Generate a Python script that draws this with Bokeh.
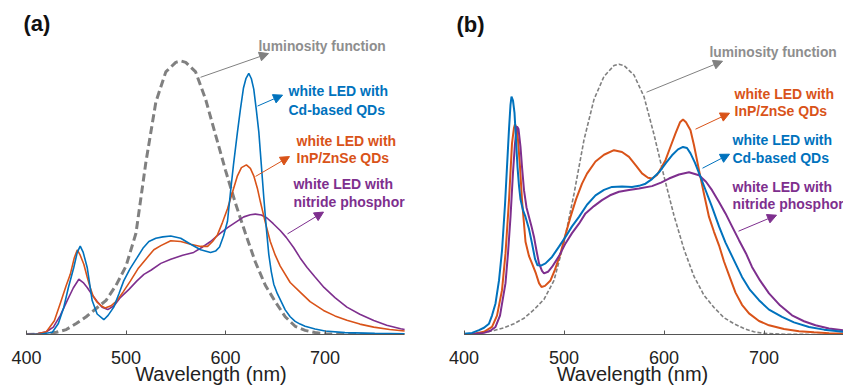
from bokeh.plotting import figure
from bokeh.layouts import row
from bokeh.models import Range1d, FixedTicker, Label, Arrow, NormalHead
from bokeh.embed import file_html
from bokeh.resources import INLINE

# ---------------- data: panel (a) ----------------
wl_lum_a = [400, 410, 420, 430, 440, 450, 460, 470, 480, 490, 500, 510, 520, 530, 540, 550, 555,
            560, 570, 580, 590, 600, 610, 620, 630, 640, 650, 660, 670, 680, 690, 700, 720, 750, 780]
lum_a = [0.0, 0.001, 0.003, 0.008, 0.018, 0.04, 0.065, 0.095, 0.125, 0.18, 0.25, 0.37, 0.63, 0.85,
         0.96, 0.995, 1.0, 0.995, 0.96, 0.86, 0.73, 0.60, 0.48, 0.37, 0.265, 0.18, 0.12, 0.065,
         0.03, 0.015, 0.007, 0.003, 0.001, 0.0, 0.0]

wl_cd_a = [400, 415, 426, 432, 437.5, 442, 447.5, 451, 454, 457, 461, 466, 471, 477.7, 482, 487.7,
           493, 497.7, 504, 511, 517, 523, 530, 537, 545, 555, 565, 575, 585, 590, 594, 598, 602,
           605, 608, 612, 615, 618, 620.5, 623.4, 626, 628.4, 631, 633.5, 636, 638.5, 641, 643.5,
           646, 648.5, 652, 656, 660, 665, 670, 675, 680, 690, 700, 720, 750, 780]
cd_a = [0.0, 0.002, 0.008, 0.04, 0.10, 0.17, 0.245, 0.30, 0.323, 0.30, 0.245, 0.124, 0.075, 0.054,
        0.07, 0.10, 0.15, 0.196, 0.24, 0.28, 0.315, 0.34, 0.352, 0.357, 0.36, 0.352, 0.33, 0.31,
        0.30, 0.305, 0.32, 0.36, 0.414, 0.52, 0.62, 0.74, 0.824, 0.90, 0.935, 0.955, 0.935, 0.897,
        0.82, 0.74, 0.62, 0.50, 0.39, 0.293, 0.23, 0.184, 0.15, 0.12, 0.09, 0.065, 0.048, 0.038,
        0.03, 0.02, 0.013, 0.007, 0.004, 0.003]

wl_inp_a = [400, 410, 420, 428, 434, 440, 444, 448, 451, 454, 457.6, 461, 464, 467, 471, 475, 479,
            485, 491, 497, 504.5, 512, 521, 528, 535, 545, 555, 565, 575, 582, 587, 592, 597, 602,
            607, 612, 616, 621, 625, 628.4, 632, 635, 640, 645, 650, 655, 665, 675, 685, 698.5,
            710, 722, 735, 749, 765, 780]
inp_a = [0.0, 0.002, 0.01, 0.05, 0.114, 0.18, 0.22, 0.28, 0.309, 0.29, 0.257, 0.21, 0.172, 0.14,
         0.118, 0.105, 0.097, 0.105, 0.124, 0.155, 0.196, 0.24, 0.28, 0.31, 0.325, 0.343, 0.34,
         0.33, 0.322, 0.322, 0.34, 0.365, 0.41, 0.46, 0.52, 0.58, 0.61, 0.62, 0.607, 0.58, 0.535,
         0.486, 0.41, 0.34, 0.29, 0.25, 0.19, 0.155, 0.12, 0.088, 0.068, 0.052, 0.038, 0.027,
         0.018, 0.013]

wl_nit_a = [400, 410, 420, 427, 434, 441, 447, 452.6, 457, 461, 466, 471, 476, 481.7, 488, 494.5,
            503, 511, 518, 525, 535, 545, 557, 568, 577, 585, 593, 601.7, 610, 618.4, 625, 630,
            636, 641.7, 648, 655, 661, 668.6, 675, 682, 690, 699, 710, 722, 735, 749, 762, 776, 780]
nit_a = [0.0, 0.002, 0.01, 0.027, 0.07, 0.125, 0.17, 0.202, 0.19, 0.172, 0.145, 0.121, 0.10, 0.091,
         0.105, 0.136, 0.165, 0.196, 0.22, 0.235, 0.26, 0.275, 0.29, 0.30, 0.32, 0.34, 0.365, 0.39,
         0.41, 0.43, 0.438, 0.44, 0.437, 0.426, 0.405, 0.38, 0.355, 0.317, 0.28, 0.245, 0.21,
         0.172, 0.135, 0.10, 0.074, 0.051, 0.034, 0.021, 0.018]

# ---------------- data: panel (b) ----------------
wl_lum_b = [400, 410, 420, 430, 440, 450, 460, 470, 480, 490, 500, 510, 520, 530, 540, 550, 555,
            560, 570, 580, 590, 600, 610, 620, 630, 640, 650, 660, 670, 680, 690, 700, 720, 750, 780]
lum_b = [0.0, 0.003, 0.008, 0.015, 0.025, 0.04, 0.06, 0.092, 0.13, 0.2, 0.34, 0.52, 0.72, 0.87,
         0.955, 0.995, 1.0, 0.995, 0.96, 0.88, 0.74, 0.585, 0.44, 0.315, 0.215, 0.145, 0.10,
         0.062, 0.04, 0.022, 0.01, 0.004, 0.001, 0.0, 0.0]

wl_cd_b = [400, 408, 415, 420, 425, 428, 431.5, 435, 438, 441, 443, 445, 446.5, 447.5, 449, 450.5,
           452, 453.5, 455, 456.5, 459, 461.5, 465, 468, 471, 473.5, 477, 481.5, 488, 495, 501.5,
           508, 515, 523, 531.5, 540, 548, 558, 568, 575, 581.5, 588, 595, 602, 608, 614, 619, 623,
           626.5, 631, 636.5, 642, 648, 655, 661.5, 668, 678, 686, 695, 705, 718, 730, 745, 760, 780]
cd_b = [0.003, 0.006, 0.016, 0.025, 0.04, 0.07, 0.115, 0.2, 0.31, 0.48, 0.62, 0.76, 0.85, 0.88,
        0.865, 0.82, 0.72, 0.62, 0.55, 0.50, 0.46, 0.435, 0.39, 0.337, 0.28, 0.256, 0.255, 0.263,
        0.287, 0.325, 0.361, 0.40, 0.435, 0.48, 0.515, 0.535, 0.546, 0.548, 0.546, 0.55, 0.558,
        0.575, 0.60, 0.635, 0.663, 0.685, 0.694, 0.69, 0.67, 0.635, 0.583, 0.53, 0.472, 0.40, 0.34,
        0.29, 0.213, 0.165, 0.127, 0.092, 0.065, 0.045, 0.028, 0.018, 0.01]

wl_inp_b = [400, 410, 420, 428, 433, 438, 441.5, 445, 448, 450, 451, 452.5, 454, 456, 458, 461.5,
            465, 468, 472, 475, 477.5, 481, 486.5, 491, 496.5, 501.5, 506.5, 512, 518, 523, 531.5,
            540, 550, 558, 565, 572, 578, 584, 588, 593, 597, 601.5, 606, 611.5, 616, 619, 622,
            626.5, 630, 635, 640, 645, 650, 655, 660, 665, 671.5, 678, 685, 695, 705, 720, 735, 750,
            765, 780]
inp_b = [0.0, 0.003, 0.01, 0.028, 0.07, 0.164, 0.30, 0.497, 0.707, 0.765, 0.778, 0.765, 0.72, 0.62,
         0.497, 0.343, 0.29, 0.263, 0.225, 0.19, 0.176, 0.18, 0.20, 0.24, 0.30, 0.37, 0.435, 0.50,
         0.558, 0.595, 0.64, 0.665, 0.682, 0.675, 0.657, 0.625, 0.596, 0.58, 0.577, 0.59, 0.615,
         0.645, 0.69, 0.744, 0.785, 0.795, 0.785, 0.756, 0.70, 0.608, 0.52, 0.435, 0.38, 0.33,
         0.27, 0.22, 0.155, 0.11, 0.078, 0.05, 0.034, 0.02, 0.012, 0.008, 0.005, 0.004]

wl_nit_b = [400, 410, 420, 426, 431.5, 436, 441.5, 444, 446.5, 449, 451, 453, 454.5, 456.5, 458,
            460, 462.5, 465, 467.5, 470, 472.5, 475, 478, 480, 484, 488, 495, 501.5, 508, 515,
            521.5, 530, 538, 546, 555, 565, 575, 588, 597, 605, 615, 625, 635, 642, 648, 655, 661.5,
            668, 675, 682, 688, 696, 705, 716, 728, 740, 751.5, 765, 780]
nit_b = [0.0, 0.002, 0.006, 0.013, 0.028, 0.07, 0.19, 0.30, 0.435, 0.60, 0.707, 0.77, 0.76, 0.694,
         0.62, 0.534, 0.47, 0.435, 0.40, 0.361, 0.31, 0.263, 0.235, 0.226, 0.232, 0.25, 0.29, 0.337,
         0.375, 0.41, 0.448, 0.475, 0.497, 0.515, 0.528, 0.535, 0.54, 0.549, 0.562, 0.577, 0.592,
         0.60, 0.589, 0.565, 0.534, 0.49, 0.448, 0.40, 0.349, 0.30, 0.25, 0.2, 0.152, 0.108, 0.071,
         0.049, 0.034, 0.022, 0.015]

tick_values = [400, 500, 600, 700]
tick_labels = {400: "400", 500: "500", 600: "600", 700: "700"}
x_title = "Wavelength (nm)"

BLUE = "#0072BD"
ORANGE = "#D95319"
PURPLE = "#7E2F8E"
GRAY = "#808080"
TGRAY = "#8E8E8E"
FONT = "Liberation Sans"


def make_fig(width, xr, yr, bottom):
    p = figure(width=width, height=389, x_range=Range1d(*xr), y_range=Range1d(*yr),
               output_backend="svg", toolbar_location=None, y_axis_location=None,
               min_border_left=0, min_border_right=0, min_border_top=0,
               min_border_bottom=bottom)
    p.outline_line_color = None
    p.xgrid.visible = False
    p.ygrid.visible = False
    p.background_fill_color = "white"
    p.border_fill_color = "white"
    ax = p.xaxis[0]
    ax.ticker = FixedTicker(ticks=tick_values)
    ax.major_label_overrides = tick_labels
    ax.bounds = (400, 780)
    ax.major_tick_in = 4
    ax.major_tick_out = 0
    ax.minor_tick_line_color = None
    ax.axis_line_color = "#555555"
    ax.major_tick_line_color = "#555555"
    ax.major_label_text_font = FONT
    ax.major_label_text_font_size = "18px"
    ax.major_label_text_color = "#222222"
    ax.major_label_standoff = 16
    ax.axis_label = x_title
    ax.axis_label_text_font = FONT
    ax.axis_label_text_font_size = "20px"
    ax.axis_label_text_font_style = "normal"
    ax.axis_label_text_color = "#222222"
    ax.axis_label_standoff = -4
    return p


def add_text(p, x, y, txt, color, size="14px", bold=True, align="left"):
    p.add_layout(Label(x=x, y=y, text=txt, text_color=color, text_font=FONT,
                       text_font_size=size, text_font_style="bold" if bold else "normal",
                       text_align=align, text_baseline="middle"))


def add_arrow(p, x0, y0, x1, y1, color):
    p.add_layout(Arrow(x_start=x0, y_start=y0, x_end=x1, y_end=y1, line_color=color,
                       line_width=1,
                       end=NormalHead(size=9, line_color=color, fill_color=color, line_width=1)))


# ---------------- panel (a) ----------------
pa = make_fig(421, (373.87, 796.98), (0.0, 1.221), 52)
pa.line(wl_lum_a, lum_a, line_color=GRAY, line_width=3, line_dash="8 4")
pa.line(wl_nit_a, nit_a, line_color=PURPLE, line_width=1.6)
pa.line(wl_inp_a, inp_a, line_color=ORANGE, line_width=1.6)
pa.line(wl_cd_a, cd_a, line_color=BLUE, line_width=1.6)

add_text(pa, 397, 1.136, "(a)", "#111111", size="22px")
add_text(pa, 633.2, 1.0525, "luminosity function", TGRAY, size="13.8px")
add_arrow(pa, 574.9, 0.9402, 643.2, 1.027, GRAY)
add_text(pa, 663.3, 0.8895, "white LED with", BLUE)
add_text(pa, 663.3, 0.8207, "Cd-based QDs", BLUE)
add_arrow(pa, 632.2, 0.8351, 657.3, 0.8750, BLUE)
add_text(pa, 671.4, 0.7083, "white LED with", ORANGE)
add_text(pa, 671.4, 0.6467, "InP/ZnSe QDs", ORANGE)
add_arrow(pa, 630.2, 0.5779, 664.3, 0.6504, ORANGE)
add_text(pa, 668.3, 0.5489, "white LED with", PURPLE)
add_text(pa, 668.3, 0.4837, "nitride phosphor", PURPLE)
add_arrow(pa, 662.3, 0.3678, 698.5, 0.4475, PURPLE)

# ---------------- panel (b) ----------------
pb = make_fig(422, (357.5, 779.5), (0.0, 1.2357), 55)
pb.line(wl_lum_b, lum_b, line_color=GRAY, line_width=1.6, line_dash="4 2")
pb.line(wl_inp_b, inp_b, line_color=ORANGE, line_width=2)
pb.line(wl_nit_b, nit_b, line_color=PURPLE, line_width=2)
pb.line(wl_cd_b, cd_b, line_color=BLUE, line_width=2)

add_text(pb, 392.5, 1.148, "(b)", "#111111", size="22px")
add_text(pb, 645.5, 1.0444, "luminosity function", TGRAY, size="13.8px")
add_arrow(pb, 582.5, 0.8964, 658.5, 1.0111, GRAY)
add_text(pb, 670.5, 0.8889, "white LED with", ORANGE)
add_text(pb, 670.5, 0.8261, "InP/ZnSe QDs", ORANGE)
add_arrow(pb, 631.5, 0.7596, 665.5, 0.8187, ORANGE)
add_text(pb, 668.5, 0.7188, "white LED with", BLUE)
add_text(pb, 668.5, 0.6522, "Cd-based QDs", BLUE)
add_arrow(pb, 638.5, 0.6153, 665.5, 0.6671, BLUE)
add_text(pb, 668.5, 0.545, "white LED with", PURPLE)
add_text(pb, 668.5, 0.482, "nitride phosphor", PURPLE)
add_arrow(pb, 674.5, 0.3822, 712.5, 0.4414, PURPLE)

layout = row(pa, pb)
open("out.html", "w").write(file_html(layout, INLINE))
